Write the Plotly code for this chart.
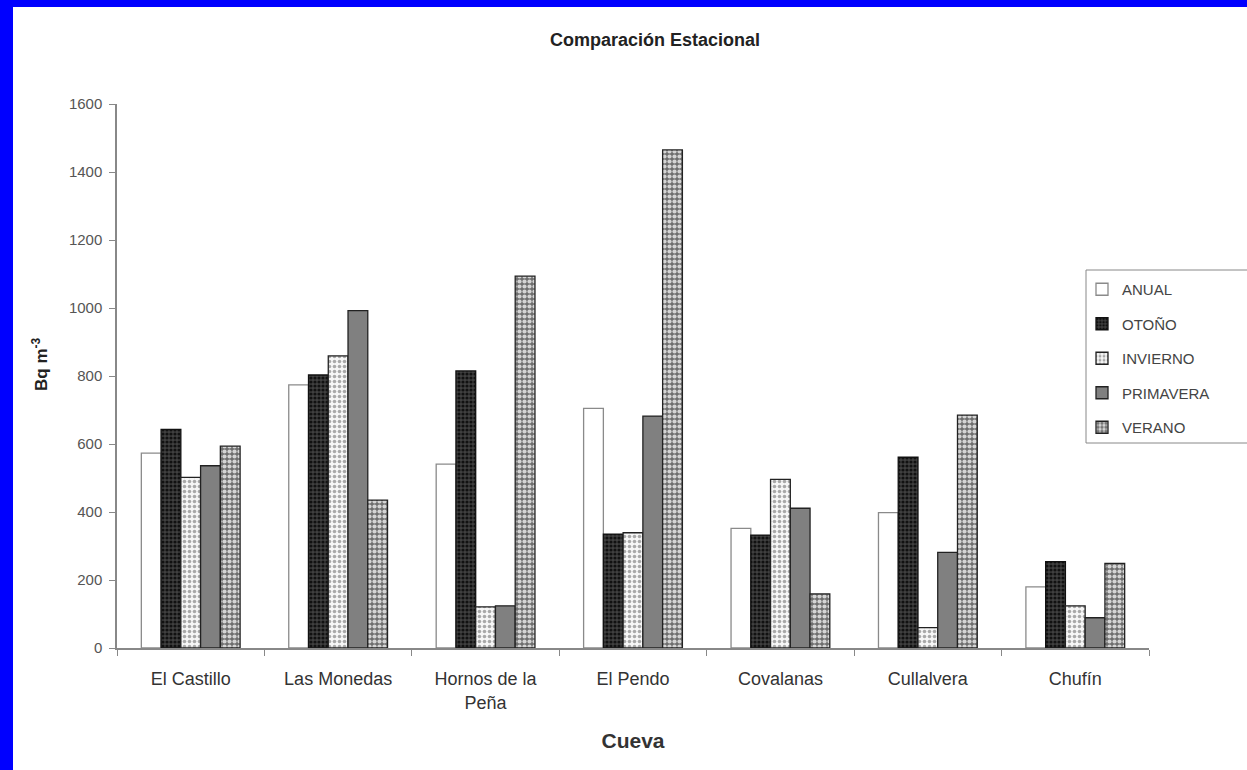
import plotly.graph_objects as go

cuevas = ["El Castillo", "Las Monedas", "Hornos de la<br>Peña", "El Pendo",
          "Covalanas", "Cullalvera", "Chufín"]
anual = [573, 774, 541, 705, 352, 398, 180]
otono = [643, 803, 815, 335, 332, 561, 254]
invierno = [502, 859, 121, 339, 496, 60, 124]
primavera = [536, 992, 124, 682, 411, 281, 89]
verano = [594, 435, 1094, 1465, 159, 685, 249]

series = [
    ("ANUAL", anual, dict(color="white", line=dict(color="#8a8a8a", width=1.3))),
    ("OTOÑO", otono, dict(color="#3a3a3a", line=dict(color="#111", width=1.3),
                          pattern=dict(shape=".", bgcolor="#404040", fgcolor="#111",
                                       size=4, solidity=0.5, fillmode="replace"))),
    ("INVIERNO", invierno, dict(color="white", line=dict(color="#222", width=1.3),
                                pattern=dict(shape=".", bgcolor="#f6f6f6", fgcolor="#a8a8a8",
                                             size=5, solidity=0.4, fillmode="replace"))),
    ("PRIMAVERA", primavera, dict(color="#808080", line=dict(color="#222", width=1.3))),
    ("VERANO", verano, dict(color="#777", line=dict(color="#222", width=1.3),
                            pattern=dict(shape=".", bgcolor="#6e6e6e", fgcolor="#d4d4d4",
                                         size=5, solidity=0.55, fillmode="replace"))),
]

fig = go.Figure()
for name, vals, marker in series:
    fig.add_trace(go.Bar(name=name, x=cuevas, y=vals, marker=marker,
                         legendgroup=name))

W, H = 1247, 770
L, R, T, B = 117, 98, 104, 122
pw, ph = W - L - R, H - T - B

def px_x(p):
    return (p - L) / pw

def px_y(p):
    return (H - B - p) / ph

# white canvas inside the blue frame
fig.add_shape(type="rect", xref="paper", yref="paper", layer="below",
              x0=px_x(13), x1=px_x(1260), y0=px_y(790), y1=px_y(7),
              fillcolor="white", line=dict(width=0))

# legend frame, running off the right edge
fig.add_shape(type="rect", xref="paper", yref="paper", layer="above",
              x0=px_x(1086), x1=px_x(1262), y0=px_y(443), y1=px_y(270),
              fillcolor="white", line=dict(color="#888", width=1))

fig.update_layout(
    width=W, height=H,
    margin=dict(l=L, r=R, t=T, b=B, autoexpand=False),
    paper_bgcolor="#0000ff",
    plot_bgcolor="white",
    barmode="group",
    bargap=0.33,
    bargroupgap=0,
    font=dict(family="Arial, Liberation Sans, sans-serif", color="#444"),
    title=dict(text="<b>Comparación Estacional</b>", x=655 / W,
               xanchor="center", y=1 - 40 / H, yanchor="middle",
               font=dict(size=18, color="#222")),
    xaxis=dict(showline=True, linecolor="#888", linewidth=1.5,
               ticks="outside", tickson="boundaries", ticklen=6, tickcolor="#888",
               ticklabelstandoff=14,
               tickfont=dict(size=18, color="#333"),
               title=dict(text="<b>Cueva</b>", font=dict(size=21, color="#333"),
                          standoff=22)),
    yaxis=dict(range=[0, 1600], dtick=200, showgrid=False, zeroline=False,
               showline=True, linecolor="#888", linewidth=1.5,
               ticks="outside", ticklen=6, tickcolor="#888",
               ticklabelstandoff=4,
               tickfont=dict(size=15, color="#555")),
    legend=dict(x=px_x(1082), xanchor="left", y=px_y(273), yanchor="top",
                bgcolor="rgba(0,0,0,0)", borderwidth=0,
                itemwidth=30,
                tracegroupgap=12, font=dict(size=15, color="#444")),
)

fig.add_annotation(text="<b>Bq m<sup>-3</sup></b>", xref="paper", yref="paper",
                   x=px_x(40), y=px_y(365), xanchor="center", yanchor="middle",
                   textangle=-90, showarrow=False,
                   font=dict(size=17, color="#222"))

fig.write_html("out.html")
